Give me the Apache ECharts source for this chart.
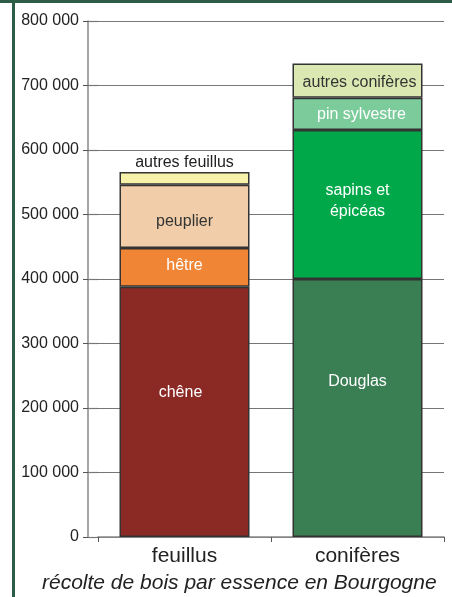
<!DOCTYPE html>
<html>
<head>
<meta charset="utf-8">
<script src="https://cdn.jsdelivr.net/npm/echarts@6/dist/echarts.min.js"></script>
<style>
html,body{margin:0;padding:0;background:#fff;}
#c{width:452px;height:597px;}
</style>
</head>
<body>
<div id="c"></div>
<script>
const categories = ['feuillus', 'conifères'];
const feuillusNames = ['chêne', 'hêtre', 'peuplier', 'autres feuillus'];
const feuillusValues = [388000, 60000, 98000, 20000];
const coniferesNames = ['Douglas', 'sapins et\népicéas', 'pin sylvestre', 'autres conifères'];
const coniferesValues = [400000, 231000, 50000, 53000];
const yMin = 0, yMax = 800000, yStep = 100000;
const titleText = 'récolte de bois par essence en Bourgogne';

const feuillusColors = ['#8B2A25', '#F08536', '#F1CEA9', '#F8F1A9'];
const feuillusLabelColors = ['#ffffff', '#ffffff', '#333333', '#222222'];
const feuillusOffsets = [[-4, -19], [0, -2], [0, 5], [0, 4]];
const coniferesColors = ['#3A7F53', '#00A84A', '#7BCB9B', '#DCE8B1'];
const coniferesLabelColors = ['#ffffff', '#ffffff', '#ffffff', '#333333'];
const coniferesOffsets = [[0, -26], [0, -3], [4, 1], [2, 2]];

const font = 'Liberation Sans, Arial, Helvetica, sans-serif';

function fmt(v) {
  return String(v).replace(/\B(?=(\d{3})+(?!\d))/g, ' ');
}

const series = [];
feuillusNames.forEach((n, i) => {
  series.push({
    name: n, type: 'bar', stack: 'total', barWidth: 130,
    data: [feuillusValues[i], '-'],
    itemStyle: { color: feuillusColors[i], borderColor: '#333', borderWidth: 1.5 },
    label: {
      show: true, position: i === 3 ? 'top' : 'inside', offset: feuillusOffsets[i],
      formatter: n, color: feuillusLabelColors[i], fontSize: 16, fontFamily: font
    }
  });
});
coniferesNames.forEach((n, i) => {
  series.push({
    name: n, type: 'bar', stack: 'total', barWidth: 130,
    data: ['-', coniferesValues[i]],
    itemStyle: { color: coniferesColors[i], borderColor: '#333', borderWidth: 1.5 },
    label: {
      show: true, position: 'inside', offset: coniferesOffsets[i],
      formatter: n, color: coniferesLabelColors[i], fontSize: 16, fontFamily: font, lineHeight: 21
    }
  });
});

const chart = echarts.init(document.getElementById('c'), null, { renderer: 'canvas' });
chart.setOption({
  animation: false,
  backgroundColor: '#ffffff',
  textStyle: { fontFamily: font },
  title: {
    text: titleText, left: 37, top: 568,
    textStyle: { fontSize: 21, fontStyle: 'italic', fontWeight: 'normal', color: '#222', fontFamily: font }
  },
  grid: { left: 98, right: 8, top: 21, bottom: 60, containLabel: false },
  xAxis: {
    type: 'category', data: categories,
    axisLine: { lineStyle: { color: '#888', width: 1.5 } },
    axisTick: { show: true, length: 5, lineStyle: { color: '#555' } },
    axisLabel: { fontSize: 21, color: '#222', margin: 9, fontFamily: font }
  },
  yAxis: [{
    type: 'value', min: yMin, max: yMax, interval: yStep, offset: 10,
    axisLine: { show: true, lineStyle: { color: '#888', width: 1.5 } },
    axisTick: { show: true, length: 5, lineStyle: { color: '#555' } },
    axisLabel: { fontSize: 16, color: '#222', margin: 9, formatter: fmt, fontFamily: font },
    splitLine: { show: true, lineStyle: { color: '#777', width: 1.2 } }
  }, {
    type: 'value', min: yMin, max: yMax, interval: yStep, offset: 10, position: 'left',
    axisLine: { show: false },
    axisTick: { show: true, inside: true, length: 10, lineStyle: { color: '#777', width: 1.2 } },
    axisLabel: { show: false },
    splitLine: { show: false }
  }],
  graphic: [
    { type: 'rect', shape: { x: 0, y: 0, width: 452, height: 3 }, style: { fill: '#2E5C46' } },
    { type: 'rect', shape: { x: 12, y: 0, width: 3, height: 597 }, style: { fill: '#2E5C46' } }
  ],
  series: series
});
</script>
</body>
</html>
